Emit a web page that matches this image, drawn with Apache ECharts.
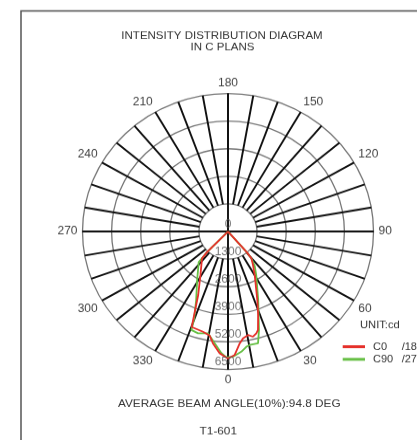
<!DOCTYPE html>
<html><head><meta charset="utf-8">
<script src="https://cdn.jsdelivr.net/npm/echarts@6/dist/echarts.min.js"></script>
<style>html,body{margin:0;padding:0;background:#fff;overflow:hidden}
#c{width:417px;height:464px;transform:scaleY(0.9485);transform-origin:0 0}</style>
</head><body><div id="c"></div>
<script>
// ---- data ----
const ringValues = [0, 1300, 2600, 3900, 5200, 6500];
const angleLabelStep = 30;
// C0/C180 plane: gamma (deg, negative = C180 side) and intensity (cd)
const redGamma = [-90, -44, -42.6, -31, -24, -21.4, -19.8, -13.3, -9.5, -7.3, -3.7, 0, 2.9, 5.7, 7.6, 10.4, 12.7, 14.8, 16.1, 18.9, 22.1, 30.2, 35.3, 39.6, 40.8, 90];
const redCd    = [0, 1323, 1715, 2391, 3274, 4073, 4782, 4850, 4966, 5308, 5749, 5982, 5825, 5292, 5075, 4956, 5079, 4960, 4829, 4158, 3483, 2371, 1933, 1639, 1257, 0];
// C90/C270 plane
const greenGamma = [-90, -44, -42.3, -31.1, -23.8, -20.3, -19.4, -15.6, -10.5, -9.5, -6.4, -2.9, -0.7, 2.2, 6.0, 8.6, 10.3, 14.3, 16.6, 22.7, 31.6, 36.3, 39.6, 40.8, 90];
const greenCd    = [0, 1323, 1944, 2667, 3525, 4345, 4918, 4979, 4877, 4943, 5299, 5745, 5925, 5901, 5693, 5488, 5433, 5434, 4841, 3497, 2405, 2016, 1639, 1257, 0];
const seriesNames = ['C0/180', 'C90/270'];
const titleLines = ['INTENSITY DISTRIBUTION DIAGRAM', 'IN C PLANS'];
const unitText = 'UNIT:cd';
const beamText = 'AVERAGE BEAM ANGLE(10%):94.8 DEG';
const modelText = 'T1-601';

// ---- layout ----
const S = 0.9485;               // vertical squash of the original picture
const Y = y => y / S;
const FONT = 'Liberation Sans, Arial, sans-serif';
const CX = 228, CY = Y(231.5), R = 145.5;

const toPolar = (g, v) => g.map((a, i) => [v[i], a < 0 ? a + 360 : a]);

const chart = echarts.init(document.getElementById('c'), null, {renderer: 'canvas'});
chart.setOption({
  animation: false,
  backgroundColor: '#fff',
  textStyle: {fontFamily: FONT},
  polar: [
    {center: [CX, CY], radius: [R * 1300 / 6500, R]},
    {center: [CX, CY], radius: [0, R]}
  ],
  angleAxis: [
    {polarIndex: 0, type: 'value', min: 0, max: 360, interval: 10, startAngle: 270, clockwise: false,
     axisLine: {show: false}, axisTick: {show: false},
     axisLabel: {margin: 5, color: '#444', fontSize: 12, fontFamily: FONT,
       formatter: v => (v % angleLabelStep === 0 && v < 360) ? String(v) : ''},
     splitLine: {show: true, lineStyle: {color: '#111', width: 1.9}}},
    {polarIndex: 1, type: 'value', min: 0, max: 360, interval: 90, startAngle: 270, clockwise: false,
     axisLine: {show: false}, axisTick: {show: false}, axisLabel: {show: false},
     splitLine: {show: true, lineStyle: {color: '#111', width: 1.9}}}
  ],
  radiusAxis: [
    {polarIndex: 0, type: 'value', min: 0, max: 1, show: false},
    {polarIndex: 1, type: 'value', min: 0, max: 6500, interval: 1300,
     axisLine: {show: false}, axisTick: {show: false}, axisLabel: {show: false},
     splitLine: {show: true, lineStyle: {color: '#777', width: 1.3}}}
  ],
  legend: {
    orient: 'vertical', left: 342.7, top: Y(346.7) - 6.5, padding: 0,
    data: seriesNames, icon: 'rect', itemWidth: 22.3, itemHeight: 3, itemGap: 0.3,
    formatter: n => { const p = n.split('/'); return '{a|' + p[0] + '}{b|/' + p[1] + '}'; },
    textStyle: {color: '#333', fontSize: 11, fontFamily: FONT, padding: [0, 0, 0, 3], lineHeight: 13,
      rich: {a: {width: 28.7, fontSize: 11, color: '#333'}, b: {fontSize: 11, color: '#333'}}}
  },
  graphic: [
    {type: 'rect', z: -10, shape: {x: 21, y: Y(11), width: 600, height: 700},
     style: {fill: 'none', stroke: '#555', lineWidth: 1.5}},
    {type: 'text', x: 222, y: Y(35.7), style: {text: titleLines[0], align: 'center', verticalAlign: 'middle', fill: '#333', fontSize: 11.5, fontFamily: FONT}},
    {type: 'text', x: 222.5, y: Y(47.7), style: {text: titleLines[1], align: 'center', verticalAlign: 'middle', fill: '#333', fontSize: 11.5, fontFamily: FONT}},
    {type: 'text', x: 360, y: Y(325), style: {text: unitText, align: 'left', verticalAlign: 'middle', fill: '#333', fontSize: 11.2, fontFamily: FONT}},
    {type: 'text', x: 229.3, y: Y(404), style: {text: beamText, align: 'center', verticalAlign: 'middle', fill: '#333', fontSize: 11.8, fontFamily: FONT}},
    {type: 'text', x: 218.3, y: Y(431), style: {text: modelText, align: 'center', verticalAlign: 'middle', fill: '#333', fontSize: 11.8, fontFamily: FONT}}
  ],
  series: [
    {name: seriesNames[1], type: 'line', coordinateSystem: 'polar', polarIndex: 1, symbol: 'none',
     color: '#66bf44', lineStyle: {color: '#66bf44', width: 1.8}, itemStyle: {color: '#66bf44'}, z: 3,
     data: toPolar(greenGamma, greenCd)},
    {name: seriesNames[0], type: 'line', coordinateSystem: 'polar', polarIndex: 1, symbol: 'none',
     color: '#e5302a', lineStyle: {color: '#e5302a', width: 1.8}, itemStyle: {color: '#e5302a'}, z: 4,
     data: toPolar(redGamma, redCd)},
    {type: 'scatter', coordinateSystem: 'polar', polarIndex: 1, symbolSize: 1, silent: true, z: 6,
     itemStyle: {color: 'rgba(0,0,0,0)'},
     label: {show: true, position: 'top', distance: 1, color: '#555', fontSize: 12, fontFamily: FONT,
       formatter: p => String(p.value[0])},
     data: ringValues.map(v => [v, 0])}
  ]
});
</script></body></html>
